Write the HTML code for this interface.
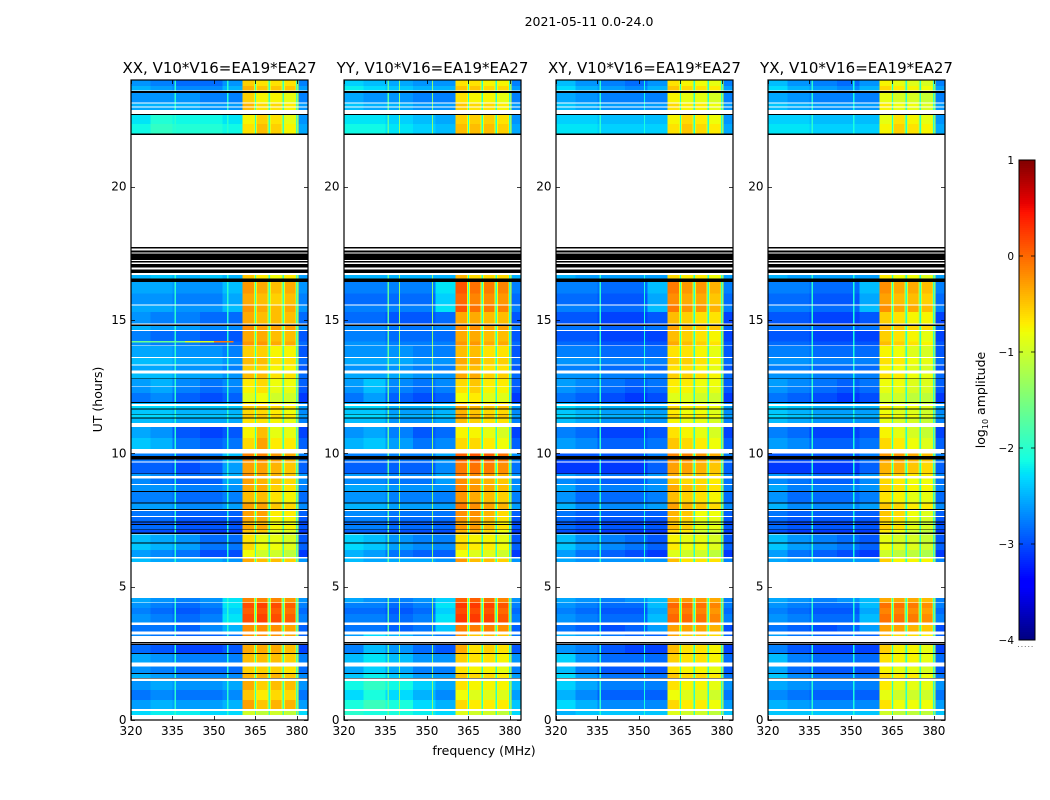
<!DOCTYPE html>
<html>
<head>
<meta charset="utf-8">
<title>2021-05-11 0.0-24.0</title>
<style>
html,body{margin:0;padding:0;background:#fff;}
svg{display:block;font-family:"DejaVu Sans","Liberation Sans",sans-serif;}
</style>
</head>
<body>
<svg id="chart" xmlns="http://www.w3.org/2000/svg" width="1050" height="800" viewBox="0 0 1050 800">
<rect x="0" y="0" width="1050" height="800" fill="#ffffff"/>
<text x="589" y="26" font-size="12.5" text-anchor="middle">2021-05-11 0.0-24.0</text>
<text x="484" y="755" font-size="12.5" text-anchor="middle">frequency (MHz)</text>
<text x="0" y="0" font-size="12.5" text-anchor="middle" transform="translate(102,399.5) rotate(-90)">UT (hours)</text>
<text x="0" y="0" font-size="12.5" text-anchor="middle" transform="translate(985,400) rotate(-90)">log<tspan font-size="8" dy="3">10</tspan><tspan dy="-3"> amplitude</tspan></text>
<g id="panels"></g>
<g id="colorbar"></g>
</svg>
<script>
const panelTitles = ["XX, V10*V16=EA19*EA27","YY, V10*V16=EA19*EA27","XY, V10*V16=EA19*EA27","YX, V10*V16=EA19*EA27"];
const freqEdges = [320,327,335,345,353,360.4,365,370,375,380,384];
const xTickValues = [320,335,350,365,380];
const yTickValues = [0,5,10,15,20];
const colorbarTicks = [-4,-3,-2,-1,0,1];
const notchFreqs = [365,370,375,380];
const notchLevels = [-1.9,-2.0,-2.0,-2.0];
const haloLevels = [-0.9,-0.8,-0.9,-1.0];
const xxLines = [[336,-2.0],[355,-2.0]];
const yyLines = [[336,-1.7],[340,-1.4],[352,-1.4]];
const xyLines = [[336,-2.0],[352,-2.1]];
const yxLines = [[336,-2.0],[351,-2.1]];
const xxStreaks = [[14.19,320,339.6,-1.6],[14.19,339.6,350,-0.9],[14.19,350,357,-0.1]];
const rowSpans = [[.19,.34],[.42,.75],[.75,1.12],[1.12,1.46],[1.58,1.73],[1.77,2.0],[2.15,2.47],[2.51,2.82],[3.15,3.21],[3.31,3.56],[3.65,3.97],[3.97,4.2],[4.2,4.38],[4.4,4.57],[5.92,6.06],[6.12,6.37],[6.37,6.61],[6.65,6.95],[7.03,7.12],[7.15,7.32],[7.35,7.41],[7.44,7.62],[7.65,7.84],[7.91,8.11],[8.15,8.55],[8.59,8.81],[8.85,9.06],[9.15,9.22],[9.25,9.65],[9.69,9.77],[9.9,10],[10.16,10.57],[10.57,10.99],[11.14,11.3],[11.34,11.47],[11.47,11.65],[11.69,11.78],[11.85,11.88],[11.92,12.26],[12.26,12.5],[12.53,12.79],[12.81,13],[13.1,13.29],[13.34,13.57],[13.62,14.02],[14.05,14.17],[14.17,14.21],[14.21,14.59],[14.62,14.77],[14.87,15.3],[15.3,15.55],[15.59,16],[16,16.43],[16.56,16.68],[22,22.35],[22.35,22.68],[22.87,22.97],[23.01,23.11],[23.16,23.52],[23.6,23.77],[23.77,24]];
const rowBlocks = [0,1,1,1,2,2,2,3,3,4,5,5,5,6,7,8,8,8,9,9,9,9,9,10,10,10,11,11,12,12,12,13,13,14,14,14,14,14,15,15,15,16,16,16,16,17,17,17,18,18,19,19,19,20,21,21,22,22,22,23,23];
const rowOffsets = [0,.1,-.1,.05,.1,-.05,.05,-.05,.1,0,.05,-.05,.05,.05,.05,-.1,.1,.05,-.1,.05,-.05,.05,.1,.1,-.05,.05,0,.1,-.1,0,.05,.1,-.05,-.05,.1,0,.1,-.05,-.1,.05,.1,.05,-.05,.05,-.05,.05,0,-.05,.1,-.05,.05,-.05,.05,.1,.05,-.05,.05,.1,-.05,.1,-.05];
const blackSpans = [[1.55,1.58],[1.73,1.77],[2.47,2.51],[2.82,2.86],[2.88,2.92],[6.61,6.65],[6.97,7.03],[7.12,7.15],[7.32,7.35],[7.41,7.44],[7.87,7.91],[8.11,8.15],[8.55,8.59],[9.22,9.25],[9.77,9.9],[11.3,11.34],[11.45,11.47],[11.65,11.69],[11.88,11.92],[12.79,12.81],[14.77,14.83],[16.43,16.55],[16.77,16.9],[16.96,17.1],[17.15,17.21],[17.25,17.5],[17.53,17.6],[17.69,17.74],[21.93,22],[22.68,22.72],[23.52,23.58]];
const xxValues = [
[-2.3,-2.2,-2.2,-2.3,-2.3,-1.0,-1.1,-1.0,-1.1,-2.3],
[-2.7,-2.6,-2.7,-2.7,-2.6,-.4,-.6,-.5,-.5,-2.7],
[-2.6,-2.7,-2.8,-2.8,-2.8,-.5,-.5,-.5,-.6,-2.8],
[-2.8,-2.9,-3,-3,-2.9,-.3,-.3,-.3,-.4,-3],
[-2.8,-2.8,-2.9,-2.7,-2.5,-.2,-.2,-.2,-.3,-2.9],
[-2.7,-2.8,-2.9,-2.8,-2.3,.1,.15,.1,0,-2.8],
[-2.6,-2.7,-2.8,-2.7,-2.3,-.2,-.2,-.2,-.3,-2.7],
[-2.5,-2.6,-2.6,-2.6,-2.7,-.4,-.5,-.5,-.6,-2.7],
[-2.5,-2.6,-2.7,-2.9,-2.9,-.7,-.9,-.9,-1,-3],
[-2.9,-2.9,-3,-3,-3,-.4,-.4,-.8,-.8,-3],
[-2.7,-2.7,-2.8,-2.8,-2.7,-.4,-.4,-.6,-.7,-2.8],
[-2.7,-2.8,-2.9,-2.9,-2.6,-.3,-.4,-.5,-.6,-2.7],
[-2.8,-2.8,-2.9,-2.8,-2.5,-.2,-.2,-.3,-.4,-2.8],
[-2.5,-2.6,-2.9,-3,-2.9,-.7,-.4,-.8,-.8,-3],
[-2.4,-2.4,-2.5,-2.5,-2.5,-.6,-.6,-.7,-.8,-2.7],
[-2.7,-2.6,-2.8,-2.9,-2.8,-.8,-.7,-.9,-.9,-3],
[-2.5,-2.5,-2.6,-2.6,-2.7,-.5,-.5,-.7,-.7,-2.9],
[-2.7,-2.8,-2.8,-2.9,-2.9,-.3,-.3,-.4,-.4,-2.9],
[-2.6,-2.7,-2.7,-2.8,-2.8,-.3,-.4,-.4,-.4,-2.8],
[-2.6,-2.6,-2.7,-2.7,-2.5,-.3,-.4,-.5,-.4,-2.7],
[-2.6,-2.5,-2.6,-2.5,-2.6,-.6,-.8,-.9,-.8,-2.7],
[-2.2,-2,-2.1,-2.1,-2.2,-.7,-.5,-.6,-.8,-2.6],
[-2.6,-2.6,-2.6,-2.7,-2.7,-.5,-.7,-.7,-.8,-2.7],
[-2.6,-2.7,-2.8,-2.8,-2.6,-.5,-.6,-.6,-.6,-2.7]
];
const yyValues = [
[-2,-2.1,-2.1,-2.2,-2.3,-.9,-1,-1,-1.1,-2.3],
[-2.2,-2,-2.2,-2.4,-2.6,-.7,-.8,-.8,-.8,-2.5],
[-2.5,-2.3,-2.5,-2.7,-2.7,-.6,-.7,-.7,-.8,-2.7],
[-2.7,-2.4,-2.6,-2.8,-2.9,-.3,-.6,-.5,-.6,-2.9],
[-2.8,-2.8,-2.9,-2.8,-2.4,-.1,-.1,-.1,-.2,-2.9],
[-2.8,-2.8,-2.9,-2.8,-2.3,.2,.2,.15,.05,-2.8],
[-2.6,-2.7,-2.8,-2.7,-2.4,0,0,-.1,-.2,-2.7],
[-2.5,-2.6,-2.6,-2.6,-2.7,-.3,-.5,-.5,-.6,-2.7],
[-2.4,-2.5,-2.7,-2.8,-2.8,-.7,-.8,-.8,-.9,-3],
[-2.8,-2.8,-2.9,-2.9,-2.9,-.3,-.3,-.5,-.7,-3],
[-2.6,-2.6,-2.7,-2.7,-2.7,-.2,-.3,-.4,-.5,-2.7],
[-2.7,-2.7,-2.8,-2.8,-2.6,-.2,-.3,-.4,-.5,-2.7],
[-2.8,-2.8,-2.8,-2.8,-2.6,0,.05,0,-.1,-2.7],
[-2.6,-2.5,-2.7,-2.9,-2.8,-.7,-.7,-.8,-.9,-3],
[-2.4,-2.4,-2.6,-2.6,-2.5,-.4,-.5,-.6,-.6,-2.7],
[-2.7,-2.5,-2.8,-2.9,-2.8,-.7,-.6,-.8,-.8,-3],
[-2.6,-2.6,-2.6,-2.7,-2.7,-.4,-.4,-.6,-.6,-2.9],
[-2.7,-2.7,-2.8,-2.8,-2.8,-.3,-.3,-.4,-.4,-2.9],
[-2.8,-2.8,-2.9,-2.9,-2.8,-.3,-.3,-.4,-.4,-2.9],
[-2.8,-2.8,-2.8,-2.8,-2.3,.05,-.1,-.15,-.2,-2.8],
[-2.6,-2.6,-2.6,-2.6,-2.6,-.5,-.7,-.7,-.7,-2.6],
[-2.2,-2.2,-2.3,-2.4,-2.5,-.5,-.5,-.5,-.6,-2.6],
[-2.5,-2.6,-2.6,-2.7,-2.7,-.6,-.7,-.7,-.8,-2.7],
[-2.3,-2.4,-2.5,-2.6,-2.6,-.6,-.6,-.7,-.7,-2.7]
];
const xyValues = [
[-2.5,-2.4,-2.4,-2.4,-2.4,-.9,-1,-1,-1.1,-2.4],
[-2.4,-2.6,-2.8,-2.8,-2.8,-.7,-.8,-.8,-.9,-2.7],
[-2.4,-2.7,-2.9,-2.9,-2.9,-.6,-.7,-.7,-.8,-2.9],
[-2.6,-2.7,-2.9,-3,-3,-.4,-.6,-.6,-.7,-3],
[-2.8,-2.9,-3,-2.9,-2.6,-.3,-.3,-.3,-.4,-3],
[-2.7,-2.8,-2.9,-2.9,-2.5,-.05,-.05,-.1,-.2,-2.8],
[-2.6,-2.7,-2.8,-2.7,-2.5,-.3,-.3,-.3,-.4,-2.8],
[-2.6,-2.7,-2.7,-2.7,-2.7,-.5,-.7,-.7,-.7,-2.8],
[-2.5,-2.7,-2.8,-2.9,-3,-.8,-.9,-.9,-1,-3],
[-2.9,-3,-3,-3,-3,-.5,-.6,-.9,-.9,-3],
[-2.6,-2.8,-2.8,-2.8,-2.7,-.4,-.5,-.6,-.7,-2.8],
[-2.7,-2.8,-2.9,-2.9,-2.7,-.5,-.6,-.6,-.7,-2.8],
[-3,-3,-3,-3,-2.8,-.2,-.2,-.3,-.4,-2.8],
[-2.7,-2.8,-3,-3,-2.9,-.6,-.7,-.8,-.9,-3],
[-2.4,-2.5,-2.6,-2.6,-2.6,-.7,-.8,-.8,-.9,-2.7],
[-2.7,-2.8,-2.9,-3,-2.9,-.8,-.8,-.9,-.9,-3],
[-2.7,-2.7,-2.8,-2.8,-2.8,-.6,-.6,-.7,-.8,-2.9],
[-2.9,-2.9,-3,-3,-3,-.4,-.5,-.6,-.7,-3],
[-2.9,-2.9,-3,-3,-2.9,-.4,-.5,-.6,-.6,-3],
[-2.8,-2.8,-2.9,-2.9,-2.5,-.15,-.3,-.3,-.45,-2.8],
[-2.6,-2.7,-2.7,-2.7,-2.7,-.7,-.8,-.8,-.9,-2.7],
[-2.3,-2.3,-2.4,-2.4,-2.4,-.7,-.55,-.65,-.75,-2.6],
[-2.5,-2.6,-2.7,-2.7,-2.7,-.7,-.8,-.8,-.9,-2.7],
[-2.4,-2.6,-2.7,-2.8,-2.6,-.6,-.7,-.75,-.8,-2.7]
];
const yxValues = [
[-2.4,-2.4,-2.4,-2.4,-2.4,-1,-1.1,-1.1,-1.1,-2.4],
[-2.6,-2.7,-2.8,-2.8,-2.8,-.75,-.9,-.9,-.9,-2.7],
[-2.5,-2.8,-2.9,-2.9,-2.9,-.7,-.8,-.8,-.9,-2.9],
[-2.7,-2.9,-3,-3,-3,-.5,-.7,-.7,-.8,-3],
[-2.8,-2.9,-3,-2.9,-2.6,-.3,-.3,-.4,-.5,-3],
[-2.7,-2.8,-2.9,-2.9,-2.5,-.1,-.1,-.15,-.25,-2.8],
[-2.6,-2.7,-2.8,-2.7,-2.5,-.4,-.4,-.4,-.5,-2.8],
[-2.6,-2.7,-2.7,-2.7,-2.7,-.6,-.8,-.8,-.8,-2.8],
[-2.5,-2.7,-2.8,-2.9,-3,-.9,-1,-1,-1.1,-3],
[-2.9,-3,-3,-3,-3,-.6,-.7,-.9,-1,-3],
[-2.6,-2.8,-2.8,-2.8,-2.7,-.6,-.7,-.8,-.8,-2.8],
[-2.7,-2.8,-2.9,-2.9,-2.7,-.6,-.7,-.8,-.8,-2.8],
[-3,-3,-3,-3,-2.8,-.3,-.3,-.4,-.5,-2.8],
[-2.7,-2.8,-3,-3,-2.9,-.7,-.8,-.9,-1,-3],
[-2.4,-2.5,-2.6,-2.6,-2.6,-.8,-.9,-.9,-1,-2.7],
[-2.7,-2.8,-2.9,-3,-2.9,-.9,-.9,-1,-1,-3],
[-2.7,-2.7,-2.8,-2.8,-2.8,-.7,-.75,-.85,-.9,-2.9],
[-2.9,-2.9,-3,-3,-3,-.5,-.6,-.7,-.8,-3],
[-2.9,-2.9,-3,-3,-2.9,-.5,-.6,-.7,-.7,-3],
[-2.8,-2.8,-2.9,-2.9,-2.5,-.25,-.4,-.4,-.5,-2.8],
[-2.6,-2.7,-2.7,-2.7,-2.7,-.8,-.9,-.9,-1,-2.7],
[-2.3,-2.3,-2.4,-2.4,-2.4,-.8,-.6,-.7,-.8,-2.6],
[-2.5,-2.6,-2.7,-2.7,-2.7,-.8,-.9,-.9,-1,-2.7],
[-2.4,-2.6,-2.7,-2.8,-2.6,-.7,-.8,-.85,-.9,-2.7]
];
const panelValues = [xxValues,yyValues,xyValues,yxValues];
const panelLines = [xxLines,yyLines,xyLines,yxLines];
const panelStreaks = [xxStreaks,[],[],[]];

const NS = "http://www.w3.org/2000/svg";
const panelLefts = [131,344,556,768];
const plotWidth = 177, plotTop = 80, plotBottom = 720;
const freqMin = 320, freqMax = 384, utMin = 0, utMax = 24;
const cbLeft = 1019, cbWidth = 16, cbTop = 160, cbBottom = 640, cbMin = -4, cbMax = 1;

function xScale(f, left){ return left + (f - freqMin) / (freqMax - freqMin) * plotWidth; }
function yScale(ut){ return plotBottom - (ut - utMin) / (utMax - utMin) * (plotBottom - plotTop); }
function cbScale(v){ return cbBottom - (v - cbMin) / (cbMax - cbMin) * (cbBottom - cbTop); }
function lerp(points, t){
  for (let i = 1; i < points.length; i++) {
    if (t <= points[i][0]) {
      const a = points[i-1], b = points[i];
      return a[1] + (b[1]-a[1]) * (t-a[0]) / (b[0]-a[0]);
    }
  }
  return points[points.length-1][1];
}
function jet(v){
  const t = Math.max(0, Math.min(1, (v - cbMin) / (cbMax - cbMin)));
  const r = lerp([[0,0],[.35,0],[.66,1],[.89,1],[1,.5]], t);
  const g = lerp([[0,0],[.125,0],[.375,1],[.64,1],[.91,0],[1,0]], t);
  const b = lerp([[0,.5],[.11,1],[.34,1],[.65,0],[1,0]], t);
  return "rgb(" + Math.round(r*255) + "," + Math.round(g*255) + "," + Math.round(b*255) + ")";
}
function shape(parent, tag, props){
  const el = document.createElementNS(NS, tag);
  for (const k in props) el.setAttribute(k, props[k]);
  parent.appendChild(el);
  return el;
}
function band(parent, left, f0, f1, lo, hi, fill){
  return shape(parent, "rect", {
    x: xScale(f0, left), y: yScale(hi),
    width: xScale(f1, left) - xScale(f0, left),
    height: yScale(lo) - yScale(hi), fill: fill
  });
}
const panelsRoot = document.getElementById("panels");

panelTitles.forEach(function(title, p){
  const left = panelLefts[p];
  const right = left + plotWidth;
  const g = shape(panelsRoot, "g", {});
  
  
  const cells = shape(g, "g", {"shape-rendering":"crispEdges"});
  
  

  rowSpans.forEach(function(span, r){
    const row = panelValues[p][rowBlocks[r]];
    row.forEach(function(value, c){
      const cell = band(cells, left, freqEdges[c], freqEdges[c+1], span[0], span[1], jet(value + rowOffsets[r]));
      
      
    });
    notchFreqs.forEach(function(f){
      const halo = band(cells, left, f - .6, f + .6, span[0], span[1], jet(haloLevels[p]));
      
      
      const notch = band(cells, left, f - .25, f + .25, span[0], span[1], jet(notchLevels[p]));
      
      
    });
    panelLines[p].forEach(function(line){
      const rfi = band(cells, left, line[0] - .2, line[0] + .2, span[0], span[1], jet(line[1]));
      
      
    });
  });

  panelStreaks[p].forEach(function(s){
    const streak = band(cells, left, s[1], s[2], s[0] - .03, s[0] + .03, jet(s[3]));
    
    
  });

  blackSpans.forEach(function(span){
    const black = band(cells, left, freqMin, freqMax, span[0], span[1], "#000");
    
    
  });

  const frame = shape(g, "rect", {x:left, y:plotTop, width:plotWidth, height:plotBottom-plotTop, fill:"none", stroke:"#000", "stroke-width":1.2});
  
  

  const heading = shape(g, "text", {x:left + plotWidth/2, y:plotTop-7, "font-size":15, "text-anchor":"middle"});
  heading.textContent = title;
  
  

  xTickValues.forEach(function(f){
    const x = Math.round(xScale(f, left)) + .5;
    const tick = shape(g, "path", {d:"M"+x+" "+plotBottom+"v-4M"+x+" "+plotTop+"v4", stroke:"#000", "stroke-width":.8, fill:"none"});
    
    
    const label = shape(g, "text", {x:xScale(f, left), y:plotBottom+15, "font-size":12, "text-anchor":"middle"});
    label.textContent = String(f);
    
    
  });
  yTickValues.forEach(function(u){
    const y = Math.round(yScale(u)) + .5;
    const tick = shape(g, "path", {d:"M"+left+" "+y+"h4M"+right+" "+y+"h-4", stroke:"#000", "stroke-width":.8, fill:"none"});
    
    
    const label = shape(g, "text", {x:left-4.5, y:yScale(u)+4, "font-size":12, "text-anchor":"end"});
    label.textContent = String(u);
    
    
  });
});

const cbRoot = document.getElementById("colorbar");
const cbRamp = shape(cbRoot, "g", {"shape-rendering":"crispEdges"});


for (let y = cbTop; y < cbBottom; y += 2) {
  const v = cbMax - (y + 1 - cbTop) / (cbBottom - cbTop) * (cbMax - cbMin);
  const strip = shape(cbRamp, "rect", {x:cbLeft, y:y, width:cbWidth, height:2, fill:jet(v)});
  
  
}
const cbFrame = shape(cbRoot, "rect", {x:cbLeft, y:cbTop, width:cbWidth, height:cbBottom-cbTop, fill:"none", stroke:"#000", "stroke-width":1});


colorbarTicks.forEach(function(v){
  const y = cbScale(v);
  const tick = shape(cbRoot, "path", {d:"M"+cbLeft+" "+y+"h4M"+(cbLeft+cbWidth)+" "+y+"h-4", stroke:"#000", "stroke-width":.8, fill:"none"});
  
  
  const label = shape(cbRoot, "text", {x:cbLeft-5, y:y+4, "font-size":10.5, "text-anchor":"end"});
  label.textContent = (v < 0 ? "\u2212" + Math.abs(v) : String(v));
  
  
});
const cbDots = shape(cbRoot, "line", {x1:1018, x2:1035, y1:646.5, y2:646.5, stroke:"#777", "stroke-width":1, "stroke-dasharray":"1 2.4"});


</script>
</body>
</html>
